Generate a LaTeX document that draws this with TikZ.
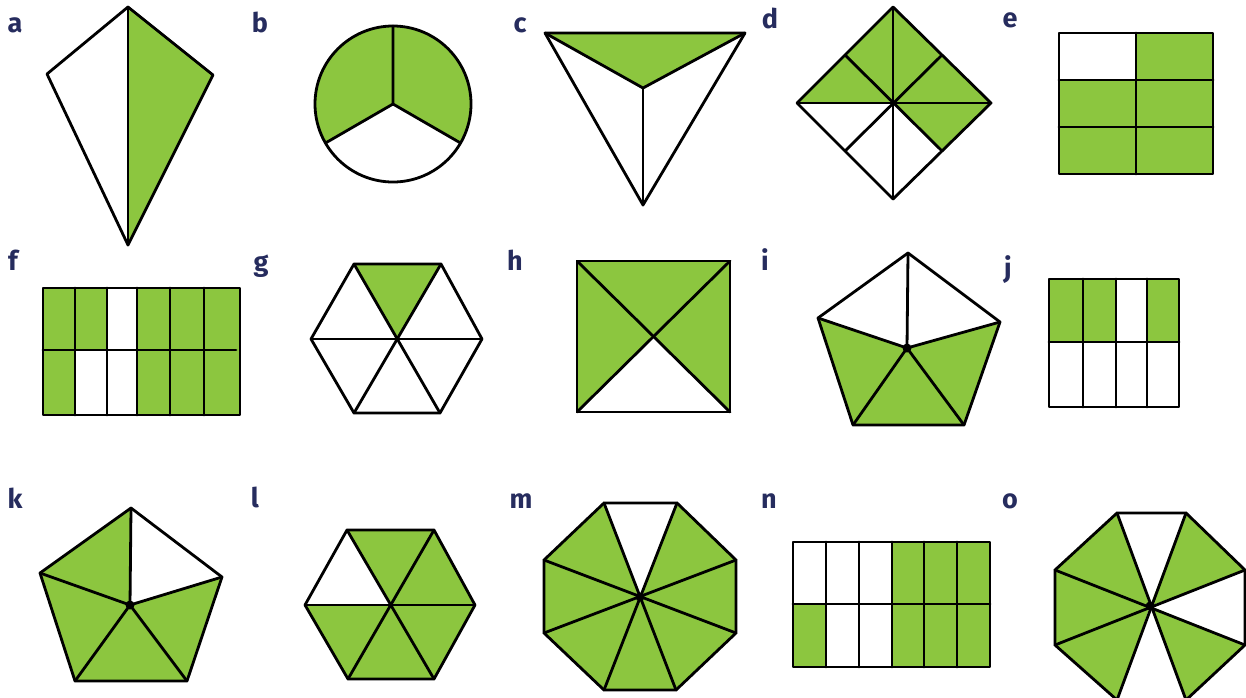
\documentclass[tikz,border=0pt]{standalone}
\usepackage{fontspec}
\newfontfamily\labfont{Fira Sans}
\definecolor{leaf}{RGB}{140,198,63}
\definecolor{navy}{RGB}{38,44,94}
\tikzset{
  shp/.style={draw=black, line width=2.8pt, line join=round, line cap=round},
  grn/.style={fill=leaf},
  wht/.style={fill=white},
  lbl/.style={text=navy, font=\labfont\bfseries\fontsize{27}{27}\selectfont, anchor=base, inner sep=0pt},
  hub/.style={fill=black}
}
\begin{document}
\begin{tikzpicture}[x=1pt,y=-1pt]
\useasboundingbox (0,0) rectangle (1246,697);
\clip (0,0) rectangle (1246,697);
\fill[white] (0,0) rectangle (1246,697);

% ---------- labels ----------
\node[lbl] (la) at (15,32) {a};
\node[lbl] (lb) at (260,32) {b};
\node[lbl] (lc) at (520,32) {c};
\node[lbl] (ld) at (770,28) {d};
\node[lbl] (le) at (1010,27) {e};
\node[lbl] (lf) at (13,270) {f};
\node[lbl] (lg) at (261,271) {g};
\node[lbl] (lh) at (515,270) {h};
\node[lbl] (li) at (765,270) {i};
\node[lbl] (lj) at (1008,277) {j};
\node[lbl] (lk) at (15,508) {k};
\node[lbl] (ll) at (255,507) {l};
\node[lbl] (lm) at (521,508) {m};
\node[lbl] (ln) at (769,508) {n};
\node[lbl] (lo) at (1010,508) {o};

% ---------- a: kite ----------
\fill[grn] (128,7) -- (213,75) -- (128,245) -- cycle;
\draw[shp] (128,7) -- (213,75) -- (128,245) -- (47,74) -- cycle;
\draw[shp] (128,7) -- (128,245);

% ---------- b: circle in thirds ----------
\fill[grn] (393,104) -- (460.5,143) arc[start angle=30, end angle=-210, radius=78] -- cycle;
\draw[shp] (393,104) circle[radius=78];
\draw[shp] (393,26) -- (393,104) -- (460.5,143);
\draw[shp] (393,104) -- (325.5,143);

% ---------- c: triangle ----------
\fill[grn] (545,33) -- (745,33) -- (643,88) -- cycle;
\draw[shp] (545,33) -- (745,33) -- (643,205) -- cycle;
\draw[shp] (545,33) -- (643,88) -- (745,33);
\draw[shp] (643,88) -- (643,205);

% ---------- d: diamond in eighths ----------
\fill[grn] (893,103) -- (797,103) -- (893,7) -- (991,103) -- (942,151) -- cycle;
\draw[shp] (893,7) -- (991,103) -- (893,199) -- (797,103) -- cycle;
\draw[shp] (797,103) -- (991,103);
\draw[shp] (893,7) -- (893,199);
\draw[shp] (845,55) -- (942,151);
\draw[shp] (942,55) -- (845,151);

% ---------- e: rectangle 2x3 ----------
\fill[grn] (1136,33) -- (1213,33) -- (1213,174) -- (1059,174) -- (1059,80) -- (1136,80) -- cycle;
\draw[shp] (1059,33) rectangle (1213,174);
\draw[shp] (1136,33) -- (1136,174);
\draw[shp] (1059,80) -- (1213,80);
\draw[shp] (1059,127) -- (1213,127);

% ---------- f: rectangle 6x2 ----------
\fill[grn] (43,288) rectangle (240,415);
\fill[wht] (107,288) rectangle (137,350);
\fill[wht] (75,350) rectangle (137,415);
\draw[shp] (43,288) rectangle (240,415);
\draw[shp] (43,350) -- (236,350);
\foreach \cx in {75,107,137,170,204} \draw[shp] (\cx,288) -- (\cx,415);

% ---------- g: hexagon ----------
\fill[grn] (354,264) -- (441,264) -- (397,339) -- cycle;
\draw[shp] (354,264) -- (441,264) -- (482,339) -- (440,413) -- (354,413) -- (311,339) -- cycle;
\draw[shp] (311,339) -- (482,339);
\draw[shp] (354,264) -- (440,413);
\draw[shp] (441,264) -- (354,413);

% ---------- h: square ----------
\fill[grn] (577,261) rectangle (730,412);
\fill[wht] (577,412) -- (653.5,336.5) -- (730,412) -- cycle;
\draw[shp] (577,261) rectangle (730,412);
\draw[shp] (577,261) -- (730,412);
\draw[shp] (730,261) -- (577,412);

% ---------- i: pentagon ----------
\fill[grn] (818,318) -- (907,348) -- (1000,322) -- (964,425) -- (853,425) -- cycle;
\draw[shp] (908,253) -- (1000,322) -- (964,425) -- (853,425) -- (818,318) -- cycle;
\foreach \p in {(908,253),(1000,322),(964,425),(853,425),(818,318)} \draw[shp] (907,348) -- \p;
\fill[hub] (907,348) circle[radius=4.5];

% ---------- j: rectangle 4x2 ----------
\fill[grn] (1049,279) rectangle (1116,342);
\fill[grn] (1147,279) rectangle (1179,342);
\draw[shp] (1049,279) rectangle (1179,407);
\draw[shp] (1049,342) -- (1179,342);
\foreach \cx in {1083,1116,1147} \draw[shp] (\cx,279) -- (\cx,407);

% ---------- k: pentagon ----------
\fill[grn] (131,508) -- (40,573) -- (75,681) -- (187,681) -- (222,577) -- (130,605) -- cycle;
\draw[shp] (131,508) -- (222,577) -- (187,681) -- (75,681) -- (40,573) -- cycle;
\foreach \p in {(131,508),(222,577),(187,681),(75,681),(40,573)} \draw[shp] (130,605) -- \p;
\fill[hub] (130,605) circle[radius=4.5];

% ---------- l: hexagon ----------
\fill[grn] (392,605) -- (347,530) -- (434,530) -- (475,605) -- (434,679) -- (348,679) -- (305,605) -- cycle;
\draw[shp] (347,530) -- (434,530) -- (475,605) -- (434,679) -- (348,679) -- (305,605) -- cycle;
\draw[shp] (305,605) -- (475,605);
\draw[shp] (347,530) -- (434,679);
\draw[shp] (434,530) -- (348,679);

% ---------- m: octagon ----------
\fill[grn] (640,597) -- (677,503) -- (736,560) -- (736,633) -- (676,690) -- (604,690) -- (544,633) -- (544,560) -- (604,503) -- cycle;
\draw[shp] (604,503) -- (677,503) -- (736,560) -- (736,633) -- (676,690) -- (604,690) -- (544,633) -- (544,560) -- cycle;
\draw[shp] (604,503) -- (676,690);
\draw[shp] (677,503) -- (604,690);
\draw[shp] (544,560) -- (736,633);
\draw[shp] (736,560) -- (544,633);
\fill[hub] (640,597) circle[radius=4.5];

% ---------- n: rectangle 6x2 ----------
\fill[grn] (892,542) rectangle (990,667);
\fill[grn] (793,604) rectangle (826,667);
\draw[shp] (793,542) rectangle (990,667);
\draw[shp] (793,604) -- (990,604);
\foreach \cx in {826,859,892,924,957} \draw[shp] (\cx,542) -- (\cx,667);

% ---------- o: octagon ----------
\fill[grn] (1150,606) -- (1117,513) -- (1055,570) -- (1055,645) -- (1117,700) -- cycle;
\fill[grn] (1150,606) -- (1186,513) -- (1245,570) -- cycle;
\fill[grn] (1150,606) -- (1245,645) -- (1186,700) -- cycle;
\draw[shp] (1117,513) -- (1186,513) -- (1245,570) -- (1245,645) -- (1186,700) -- (1117,700) -- (1055,645) -- (1055,570) -- cycle;
\draw[shp] (1117,513) -- (1186,700);
\draw[shp] (1186,513) -- (1117,700);
\draw[shp] (1055,570) -- (1245,645);
\draw[shp] (1245,570) -- (1055,645);
\fill[hub] (1150,606) circle[radius=4.5];
\end{tikzpicture}
\end{document}
